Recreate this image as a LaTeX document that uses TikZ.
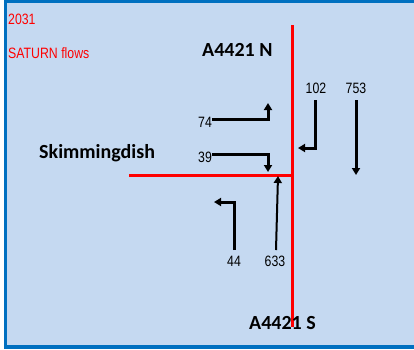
\documentclass[tikz,border=0pt]{standalone}
\usepackage{fontspec}
\setmainfont{Carlito}
\newfontfamily\numfont[FakeStretch=0.82]{Liberation Sans}
\usetikzlibrary{arrows.meta}
\definecolor{panel}{HTML}{C5D9F1}
\definecolor{frame}{HTML}{0070C0}
\definecolor{road}{HTML}{FF0000}

\begin{document}
\begin{tikzpicture}[x=1pt,y=-1pt,
  flow/.style={line width=3pt,-{Triangle[length=7pt,width=8pt]}},
  note/.style={text=road,inner sep=0pt,anchor=base west,font=\numfont\fontsize{15}{15}\selectfont},
  count/.style={inner sep=0pt,anchor=base,font=\numfont\fontsize{15}{15}\selectfont},
  arm/.style={inner sep=0pt,anchor=base west,font=\bfseries\fontsize{20}{20}\selectfont}]
  \useasboundingbox (0,0) rectangle (414,349);
  % frame and panel
  \fill[white] (0,0) rectangle (418,349);
  \fill[panel] (7,3) rectangle (418,345);
  \fill[frame] (4,0) rectangle (7,349);
  \fill[frame] (4,0) rectangle (418,3);
  \fill[frame] (4,345) rectangle (418,349);
  % roads
  \draw[road,line width=3pt] (292,25) -- (292,327);
  \draw[road,line width=3pt] (129,175) -- (292,175);
  % titles
  \node[note] (year) at (8,24) {2031};
  \node[note] (model) at (8,58) {SATURN flows};
  \node[arm] (north) at (202,56) {A4421 N};
  \node[arm] (west) at (39,158) {Skimmingdish};
  \node[arm] (south) at (249,329) {A4421 S};
  % flow counts
  \node[count] (n74) at (205,127) {74};
  \node[count] (n39) at (205,162) {39};
  \node[count] (n102) at (316,93) {102};
  \node[count] (n753) at (356,93) {753};
  \node[count] (n44) at (234,266) {44};
  \node[count] (n633) at (275,266) {633};
  % turning movements
  \coordinate (a74) at (212,119);  \coordinate (b74) at (268,103);
  \coordinate (a39) at (212,154);  \coordinate (b39) at (268,172);
  \coordinate (a102) at (315,100); \coordinate (b102) at (298,148);
  \coordinate (a753) at (356,100); \coordinate (b753) at (356,175);
  \coordinate (a44) at (234,250);  \coordinate (b44) at (214,202);
  \coordinate (a633) at (276,250); \coordinate (b633) at (278,176);
  \draw[flow] (a74) -| (b74);
  \draw[flow] (a39) -| (b39);
  \draw[flow] (a102) |- (b102);
  \draw[flow] (a753) -- (b753);
  \draw[flow] (a44) |- (b44);
  \draw[flow,line width=2pt] (a633) -- (b633);
\end{tikzpicture}
\end{document}
